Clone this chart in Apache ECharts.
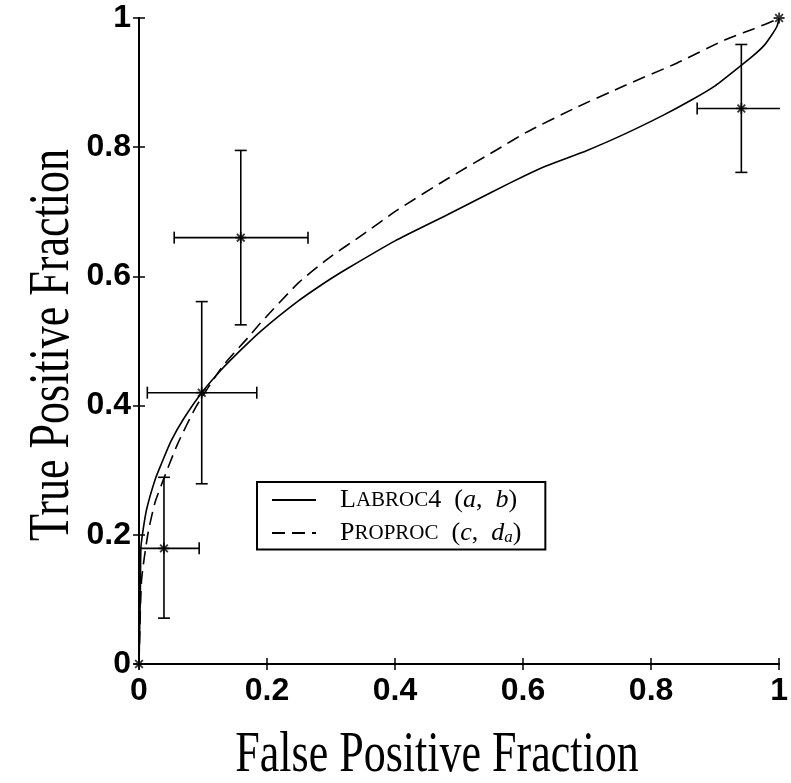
<!DOCTYPE html>
<html>
<head>
<meta charset="utf-8">
<script src="https://cdn.jsdelivr.net/npm/echarts@6/dist/echarts.min.js"></script>
<style>
  html, body { margin: 0; padding: 0; background: #fff; }
  #main { width: 791px; height: 783px; }
</style>
</head>
<body>
<div id="main"></div>
<script>
// tick labels
var tickLabels = ['0', '0.2', '0.4', '0.6', '0.8', '1'];

// Labroc4 (a,b) curve
var labrocX = [0, 0.001, 0.002, 0.003, 0.006, 0.012, 0.025, 0.035, 0.05, 0.07, 0.098, 0.13, 0.16, 0.19, 0.249, 0.296, 0.327, 0.4, 0.481, 0.55, 0.605, 0.636, 0.7, 0.76, 0.82, 0.863, 0.9, 0.935, 0.96, 0.977, 0.99, 0.997, 1];
var labrocY = [0, 0.05, 0.1, 0.18, 0.205, 0.24, 0.285, 0.31, 0.345, 0.38, 0.42, 0.457, 0.487, 0.515, 0.562, 0.594, 0.613, 0.655, 0.695, 0.73, 0.757, 0.771, 0.795, 0.821, 0.85, 0.873, 0.895, 0.922, 0.942, 0.958, 0.976, 0.988, 1];

// Proproc (c,da) curve
var proprocX = [0, 0.001, 0.004, 0.014, 0.025, 0.038, 0.06, 0.089, 0.13, 0.17, 0.19, 0.249, 0.296, 0.35, 0.404, 0.48, 0.559, 0.605, 0.68, 0.76, 0.84, 0.915, 0.96, 0.997, 1];
var proprocY = [0, 0.04, 0.13, 0.202, 0.25, 0.285, 0.34, 0.398, 0.46, 0.505, 0.528, 0.59, 0.628, 0.665, 0.703, 0.75, 0.796, 0.823, 0.86, 0.896, 0.93, 0.966, 0.983, 0.998, 1];

// operating points (stars)
var pointX = [0, 0.039, 0.098, 0.159, 0.941, 1];
var pointY = [0, 0.179, 0.42, 0.66, 0.86, 1];

// error bars
var errX = [0.039, 0.098, 0.159, 0.941];
var errY = [0.179, 0.42, 0.66, 0.86];
var errXLow = [-0.016, 0.013, 0.055, 0.872];
var errXHigh = [0.094, 0.184, 0.264, 1.01];
var errYLow = [0.071, 0.279, 0.525, 0.761];
var errYHigh = [0.289, 0.561, 0.795, 0.959];

function zip(a, b) {
    return a.map(function (v, i) { return [v, b[i]]; });
}

var errData = errX.map(function (x, i) {
    return [x, errY[i], errXLow[i], errXHigh[i], errYLow[i], errYHigh[i]];
});

var myChart = echarts.init(document.getElementById('main'));

var serifFont = '"Liberation Serif", "Times New Roman", serif';
var axisLabelStyle = {
    color: '#000', fontSize: 32, fontWeight: 'bold',
    fontFamily: '"Liberation Sans", Arial, sans-serif'
};
var axisLineStyle = { lineStyle: { color: '#000', width: 2 } };
var tickStyle = { show: true, inside: true, length: 6, lineStyle: { color: '#000', width: 1.5 } };

var star = 'path://M0,-5L0,5M-5,0L5,0M-3.5,-3.5L3.5,3.5M-3.5,3.5L3.5,-3.5';

var option = {
    animation: false,
    backgroundColor: '#fff',
    grid: { left: 139, right: 6, top: 18, bottom: 119 },
    legend: {
        left: 257,
        top: 482,
        orient: 'vertical',
        backgroundColor: '#fff',
        borderColor: '#000',
        borderWidth: 2,
        borderRadius: 0,
        padding: [5, 24, 3, 14],
        itemWidth: 44,
        itemHeight: 14,
        itemGap: 7,
        itemStyle: { opacity: 0 },
        data: ['Labroc4', 'Proproc'],
        formatter: function (name) {
            if (name === 'Labroc4') {
                return '{gap|}{big|L}{sc|ABROC}{big|4  (}{it|a}{big|,  }{it|b}{big|)}';
            }
            return '{gap|}{big|P}{sc|ROPROC}{big|  (}{it|c}{big|,  }{it|d}{sub|a}{big|)}';
        },
        textStyle: {
            color: '#000',
            fontFamily: serifFont,
            rich: {
                gap: { width: 19 },
                big: { fontSize: 26, fontFamily: serifFont, color: '#000', lineHeight: 27 },
                sc: { fontSize: 21, fontFamily: serifFont, color: '#000', lineHeight: 27 },
                it: { fontSize: 26, fontStyle: 'italic', fontFamily: serifFont, color: '#000', lineHeight: 27 },
                sub: { fontSize: 17, fontStyle: 'italic', fontFamily: serifFont, color: '#000', verticalAlign: 'bottom', padding: [8, 0, 0, 0], lineHeight: 27 }
            }
        }
    },
    xAxis: [{
        type: 'value', min: 0, max: 1, interval: 0.2,
        axisLine: axisLineStyle, axisTick: tickStyle, splitLine: { show: false },
        axisLabel: Object.assign({
            margin: 11,
            formatter: function (v) { return tickLabels[Math.round(v / 0.2)]; }
        }, axisLabelStyle)
    }, {
        type: 'value', position: 'top', min: 0, max: 1, interval: 0.2,
        axisLine: axisLineStyle, axisTick: tickStyle, splitLine: { show: false },
        axisLabel: { show: false }
    }],
    yAxis: [{
        type: 'value', min: 0, max: 1, interval: 0.2,
        axisLine: axisLineStyle, axisTick: tickStyle, splitLine: { show: false },
        axisLabel: Object.assign({
            margin: 8,
            formatter: function (v) { return tickLabels[Math.round(v / 0.2)]; }
        }, axisLabelStyle)
    }, {
        type: 'value', position: 'right', min: 0, max: 1, interval: 0.2,
        axisLine: axisLineStyle, axisTick: tickStyle, splitLine: { show: false },
        axisLabel: { show: false }
    }],
    graphic: [{
        type: 'text', x: 437, y: 756, scaleY: 1.28, silent: true,
        style: {
            text: 'False Positive Fraction', fill: '#000',
            font: '44px ' + serifFont, textAlign: 'center', textVerticalAlign: 'middle'
        }
    }, {
        type: 'text', x: 53, y: 345, rotation: Math.PI / 2, scaleY: 1.28, silent: true,
        style: {
            text: 'True Positive Fraction', fill: '#000',
            font: '44px ' + serifFont, textAlign: 'center', textVerticalAlign: 'middle'
        }
    }],
    series: [
        {
            name: 'errors',
            type: 'custom',
            clip: true,
            data: errData,
            encode: { x: 0, y: 1 },
            renderItem: function (params, api) {
                var x = api.value(0), y = api.value(1);
                var l = api.coord([api.value(2), y]);
                var r = api.coord([api.value(3), y]);
                var b = api.coord([x, api.value(4)]);
                var t = api.coord([x, api.value(5)]);
                var cap = 6;
                var st = { stroke: '#000', lineWidth: 1.6 };
                function seg(x1, y1, x2, y2) {
                    return { type: 'line', shape: { x1: x1, y1: y1, x2: x2, y2: y2 }, style: st };
                }
                return {
                    type: 'group',
                    children: [
                        seg(l[0], l[1], r[0], r[1]),
                        seg(l[0], l[1] - cap, l[0], l[1] + cap),
                        seg(r[0], r[1] - cap, r[0], r[1] + cap),
                        seg(b[0], b[1], t[0], t[1]),
                        seg(b[0] - cap, b[1], b[0] + cap, b[1]),
                        seg(t[0] - cap, t[1], t[0] + cap, t[1])
                    ]
                };
            },
            z: 2
        },
        {
            name: 'Labroc4',
            type: 'line',
            data: zip(labrocX, labrocY),
            symbol: 'none',
            smooth: 0.2,
            lineStyle: { color: '#000', width: 1.6, type: 'solid' },
            itemStyle: { color: '#000' },
            z: 3
        },
        {
            name: 'Proproc',
            type: 'line',
            data: zip(proprocX, proprocY),
            symbol: 'none',
            smooth: 0.2,
            lineStyle: { color: '#000', width: 1.6, type: [13, 7] },
            itemStyle: { color: '#000' },
            z: 3
        },
        {
            name: 'points',
            type: 'scatter',
            data: zip(pointX, pointY),
            symbol: star,
            symbolSize: 11,
            clip: false,
            itemStyle: { color: 'transparent', borderColor: '#000', borderWidth: 1.8 },
            z: 4
        }
    ]
};

option && myChart.setOption(option);
</script>
</body>
</html>
